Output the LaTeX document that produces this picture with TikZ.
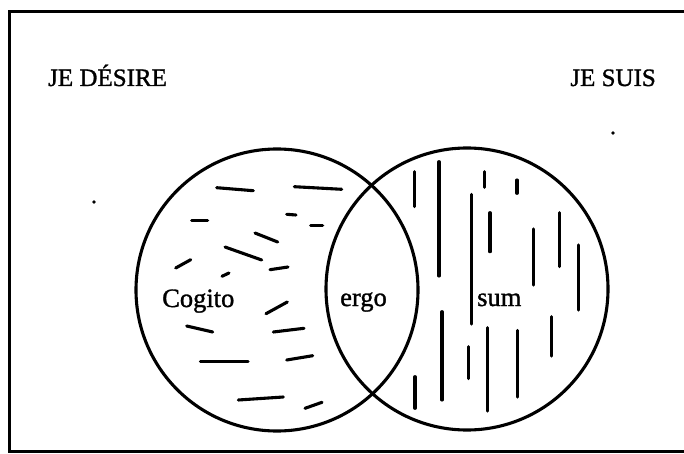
\documentclass[tikz,border=0pt]{standalone}
\usepackage{fontspec}
\setmainfont{Liberation Serif}
\newfontfamily\scanfont[FakeBold=1.2]{Liberation Serif}
\begin{document}
\begin{tikzpicture}[x=1pt,y=-1pt,
  ring/.style={draw=black,line width=3.1pt},
  stroke/.style={line width=3.1pt,line cap=round},
  frameline/.style={line width=3pt},
  biglabel/.style={font=\scanfont\fontsize{25}{29}\selectfont,inner sep=0pt,anchor=base west},
  inlabel/.style={font=\scanfont\fontsize{26.5}{30}\selectfont,inner sep=0pt,anchor=base west},
  speck/.style={fill=black}]
\useasboundingbox (0,0) rectangle (684,454);
% frame (right side runs off the picture)
\coordinate (ftr) at (690,12);
\coordinate (ftl) at (9,12);
\coordinate (fbl) at (9,451);
\coordinate (fbr) at (690,451);
\draw[frameline] (ftr) -- (ftl) -- (fbl) -- (fbr);
% labels
\node[biglabel] (desire) at (48,86) {JE DÉSIRE};
\node[biglabel,anchor=base east] (suis) at (656,86) {JE SUIS};
% circles
\node[ring,circle,minimum size=282pt,inner sep=0pt] (left) at (277,290) {};
\node[ring,circle,minimum size=282pt,inner sep=0pt] (right) at (467,289) {};
% inner labels
\node[inlabel] (cogito) at (162,307) {Cogito};
\node[inlabel] (ergo) at (340,306) {ergo};
\node[inlabel] (sum) at (477,306) {sum};
% specks
\fill[speck] (94,202) circle (1.8);
\fill[speck] (613,133) circle (1.8);
% dashes in left circle
\foreach \a/\b/\c/\d in {
 216.7/187.7/253.3/190.7, 294.3/186.7/341.7/189.3,
 191.7/220.3/207.7/220.3, 286.7/214.3/296/215,
 310.7/225.3/322.7/225.3, 255/233/277.7/242,
 225/247/261.7/260, 175.7/268/190.7/259.7,
 222/276.3/229/273, 270/269.7/288/267,
 266/313.7/287.3/302, 186.7/326/212.7/332,
 273.3/332/304/328.3, 200.3/361.7/248/361.7,
 286.7/360/312.7/355.7, 238.3/400/283.3/397,
 305/408.3/322/402.3}
  \draw[stroke] (\a,\b) -- (\c,\d);
% vertical strokes in right circle
\foreach \x/\ya/\yb in {
 414.7/171.7/206.7, 439/161.7/276, 484.3/171.7/187.3,
 517/180/193.3, 471.3/194.3/324, 490/212.7/251.7,
 533.3/229/285, 559.3/212.7/266.7, 578.3/245/310,
 442/311.7/400, 468.7/346.7/378.7, 487.3/327.7/411,
 517.3/330.3/397, 551.7/316.7/356, 415/376.7/408.3}
  \draw[stroke] (\x,\ya) -- (\x,\yb);
\end{tikzpicture}
\end{document}
